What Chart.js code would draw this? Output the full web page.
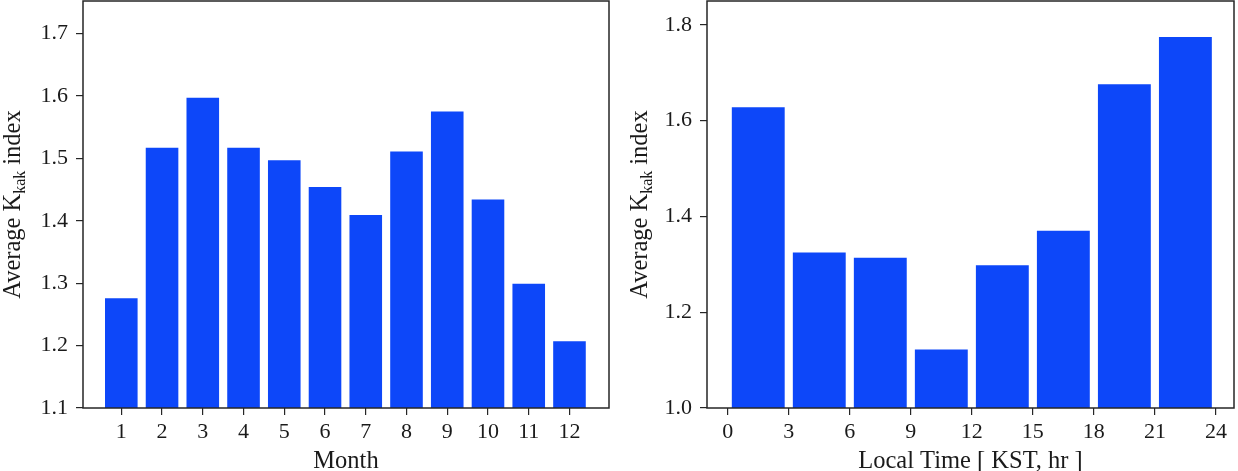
<!DOCTYPE html>
<html>
<head>
<meta charset="utf-8">
<script src="https://cdn.jsdelivr.net/npm/chart.js@4.4.1/dist/chart.umd.min.js"></script>
<style>
  html, body { margin: 0; padding: 0; background: #ffffff; }
  body { width: 1238px; height: 471px; position: relative; overflow: hidden; }
  .box { position: absolute; top: 0; height: 471px; }
  #leftBox { left: 0; width: 620px; }
  #rightBox { left: 620px; width: 618px; }
</style>
</head>
<body>
<div id="leftBox" class="box"><canvas id="monthChart" width="620" height="471"></canvas></div>
<div id="rightBox" class="box"><canvas id="hourChart" width="618" height="471"></canvas></div>
<script>
// ---- data ----
const monthCategories = [1, 2, 3, 4, 5, 6, 7, 8, 9, 10, 11, 12];
const monthlyKkak = [1.276, 1.517, 1.597, 1.517, 1.497, 1.454, 1.409, 1.511, 1.575, 1.434, 1.299, 1.207];
const monthYTicks = [1.1, 1.2, 1.3, 1.4, 1.5, 1.6, 1.7];

const hourBinCenters = [1.5, 4.5, 7.5, 10.5, 13.5, 16.5, 19.5, 22.5];
const hourlyKkak = [1.628, 1.325, 1.314, 1.122, 1.298, 1.370, 1.676, 1.775];
const hourXTicks = [0, 3, 6, 9, 12, 15, 18, 21, 24];
const hourYTicks = [1.0, 1.2, 1.4, 1.6, 1.8];

const xTitleMonth = 'Month';
const xTitleHour = 'Local Time [ KST, hr ]';
const yTitleParts = ['Average K', 'kak', ' index'];

// ---- styling ----
const FONT = '"Liberation Serif", "Times New Roman", serif';
const INK = '#1a1a1a';
const FRAME = '#262626';
const BAR = '#0d47f9';
const TICK_SIZE = 22;

Chart.defaults.font.family = FONT;
Chart.defaults.color = INK;

const framePlugin = {
  id: 'frame',
  afterDraw(chart) {
    const { ctx, chartArea: a } = chart;
    ctx.save();
    ctx.strokeStyle = FRAME;
    ctx.lineWidth = 1.5;
    ctx.strokeRect(a.left, a.top, a.right - a.left, a.bottom - a.top);
    ctx.restore();
  }
};

const yTitlePlugin = {
  id: 'yTitle',
  afterDraw(chart, args, opts) {
    const { ctx, chartArea: a } = chart;
    const size = opts.size;
    const subSize = size * 0.65;
    ctx.save();
    ctx.fillStyle = INK;
    ctx.textBaseline = 'alphabetic';
    ctx.textAlign = 'left';
    ctx.font = size + 'px ' + FONT;
    const w1 = ctx.measureText(opts.parts[0]).width;
    const w3 = ctx.measureText(opts.parts[2]).width;
    ctx.font = subSize + 'px ' + FONT;
    const w2 = ctx.measureText(opts.parts[1]).width;
    const total = w1 + w2 + w3;
    const cy = (a.top + a.bottom) / 2;
    ctx.translate(opts.x, cy);
    ctx.rotate(-Math.PI / 2);
    const s = -total / 2;
    ctx.font = size + 'px ' + FONT;
    ctx.fillText(opts.parts[0], s, 0);
    ctx.font = subSize + 'px ' + FONT;
    ctx.fillText(opts.parts[1], s + w1, opts.subShift);
    ctx.font = size + 'px ' + FONT;
    ctx.fillText(opts.parts[2], s + w1 + w2, 0);
    ctx.restore();
  }
};

function makeChart(canvasId, cfg) {
  const data = cfg.xs.map((x, i) => ({ x: x, y: cfg.ys[i] }));
  return new Chart(document.getElementById(canvasId), {
    type: 'bar',
    data: {
      datasets: [{
        data: data,
        backgroundColor: BAR,
        borderWidth: 0,
        barPercentage: cfg.barPct,
        categoryPercentage: 1.0
      }]
    },
    options: {
      responsive: false,
      animation: false,
      events: [],
      layout: { padding: { left: 0, right: cfg.padRight, top: 1, bottom: 0 } },
      plugins: {
        legend: { display: false },
        tooltip: { enabled: false },
        yTitle: { x: cfg.yTitleX, size: 24.5, subShift: 5, parts: yTitleParts }
      },
      scales: {
        x: {
          type: 'linear',
          min: cfg.xMin,
          max: cfg.xMax,
          offset: false,
          grid: { display: true, drawOnChartArea: false, drawTicks: true, tickLength: 7, color: FRAME, lineWidth: 1.2, offset: false },
          border: { display: false },
          ticks: {
            autoSkip: false, maxRotation: 0, padding: 4,
            font: { size: TICK_SIZE, lineHeight: 1.2 }, color: INK,
            callback: (v) => String(v)
          },
          afterBuildTicks: (scale) => { scale.ticks = cfg.xTicks.map(v => ({ value: v })); },
          afterFit: (scale) => { scale.height = 63; scale.paddingLeft = 0; scale.paddingRight = 0; },
          title: {
            display: true, text: cfg.xTitle, color: INK,
            font: { size: 24.5, lineHeight: 1 },
            padding: { top: 0, bottom: -2.5 }
          }
        },
        y: {
          type: 'linear',
          min: cfg.yMin,
          max: cfg.yMax,
          beginAtZero: false,
          grid: { display: true, drawOnChartArea: false, drawTicks: true, tickLength: 7, color: FRAME, lineWidth: 1.2 },
          border: { display: false },
          ticks: {
            autoSkip: false, padding: 8,
            font: { size: TICK_SIZE, lineHeight: 1.2 }, color: INK,
            callback: (v) => Number(v).toFixed(1)
          },
          afterBuildTicks: (scale) => { scale.ticks = cfg.yTicks.map(v => ({ value: v })); },
          afterFit: (scale) => { scale.width = cfg.yWidth; scale.paddingTop = 0; scale.paddingBottom = 0; }
        }
      }
    },
    plugins: [framePlugin, yTitlePlugin]
  });
}

makeChart('monthChart', {
  xs: monthCategories, ys: monthlyKkak,
  xTicks: monthCategories, yTicks: monthYTicks,
  xMin: 0.06, xMax: 12.97, yMin: 1.1, yMax: 1.752,
  barPct: 0.8, padRight: 11, yWidth: 83, yTitleX: 20,
  xTitle: xTitleMonth
});

makeChart('hourChart', {
  xs: hourBinCenters, ys: hourlyKkak,
  xTicks: hourXTicks, yTicks: hourYTicks,
  xMin: -1.02, xMax: 24.89, yMin: 1.0, yMax: 1.85,
  barPct: 0.8667, padRight: 4, yWidth: 87, yTitleX: 26.7,
  xTitle: xTitleHour
});
</script>
</body>
</html>
